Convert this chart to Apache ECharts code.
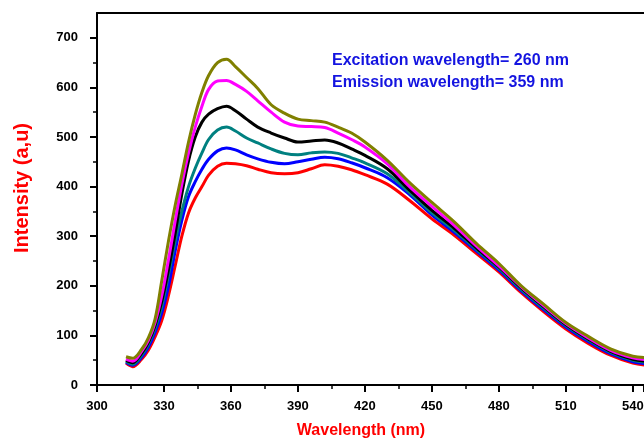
<!DOCTYPE html>
<html>
<head>
<meta charset="utf-8">
<script src="https://cdn.jsdelivr.net/npm/echarts@6/dist/echarts.min.js"></script>
<style>
  html, body { margin: 0; padding: 0; background: #fff; }
  #main { width: 644px; height: 439px; }
</style>
</head>
<body>
<div id="main"></div>
<script>
// wavelength (nm)
var wavelength = [313, 316, 320, 323, 326, 329, 332, 335, 338, 341, 344, 347, 350, 354, 358, 362, 367, 372, 378, 384, 390, 396, 402, 408, 414, 420, 430, 440, 450, 460, 470, 480, 490, 500, 510, 520, 530, 540, 546];

// intensity of each curve
var olive = [57, 54, 72, 95, 133, 210, 290, 362, 425, 490, 545, 590, 624, 650, 657, 642, 620, 598, 565, 548, 536, 533, 530, 520, 508, 490, 453, 408, 368, 329, 285, 245, 200, 163, 126, 98, 73, 58, 55];
var magenta = [52, 48, 68, 90, 126, 180, 252, 330, 405, 468, 520, 562, 596, 613, 614, 606, 592, 573, 550, 530, 522, 521, 519, 508, 495, 480, 446, 400, 360, 322, 280, 240, 198, 160, 124, 95, 70, 55, 51];
var black = [50, 45, 64, 86, 120, 168, 232, 305, 385, 452, 500, 530, 546, 557, 562, 553, 536, 520, 508, 498, 490, 492, 494, 488, 476, 463, 436, 393, 352, 316, 276, 238, 196, 158, 122, 93, 68, 52, 48];
var teal = [48, 42, 60, 82, 114, 158, 222, 290, 350, 400, 437, 468, 495, 514, 520, 512, 498, 488, 476, 467, 464, 468, 470, 467, 458, 448, 426, 388, 347, 312, 273, 235, 193, 155, 120, 91, 66, 50, 46];
var blue = [46, 40, 56, 76, 106, 145, 198, 270, 332, 380, 410, 435, 455, 472, 478, 474, 464, 456, 449, 446, 450, 455, 459, 456, 448, 438, 418, 384, 343, 308, 270, 232, 190, 152, 117, 88, 63, 47, 43];
var red = [44, 37, 52, 70, 97, 130, 180, 240, 300, 347, 377, 400, 423, 441, 447, 446, 442, 435, 428, 426, 428, 436, 444, 441, 434, 424, 405, 372, 335, 302, 265, 228, 186, 148, 113, 84, 60, 44, 40];

var yTicks = [0, 100, 200, 300, 400, 500, 600, 700];
var noteLines = ['Excitation wavelength= 260 nm', 'Emission wavelength= 359 nm'];

var curves = [
    {values: red, color: '#ff0000'},
    {values: blue, color: '#0000ff'},
    {values: teal, color: '#008080'},
    {values: black, color: '#000000'},
    {values: magenta, color: '#ff00ff'},
    {values: olive, color: '#808000'}
];

var pairs = function (ys) {
    var out = [];
    for (var i = 0; i < wavelength.length; i++) {
        out.push([wavelength[i], ys[i]]);
    }
    return out;
};

var chartDom = document.getElementById('main');
var myChart = echarts.init(chartDom, null, {renderer: 'canvas'});

var font = 'Liberation Sans, Arial, sans-serif';

var series = curves.map(function (c) {
    return {
        type: 'line',
        data: pairs(c.values),
        smooth: 0.35,
        symbol: 'none',
        lineStyle: {color: c.color, width: 3},
        xAxisIndex: 0,
        yAxisIndex: 0
    };
});

var option = {
    backgroundColor: '#ffffff',
    animation: false,
    grid: {left: 97, right: 0, top: 13, bottom: 54, outerBoundsMode: 'none'},
    xAxis: [{
        type: 'value',
        min: 300,
        max: 545,
        interval: 30,
        position: 'bottom',
        axisLine: {lineStyle: {color: '#000', width: 2}},
        axisTick: {inside: false, length: 7, lineStyle: {color: '#000', width: 2}},
        minorTick: {show: true, splitNumber: 2, length: 4, lineStyle: {color: '#000', width: 1.5}},
        axisLabel: {
            margin: 15,
            color: '#000',
            fontWeight: 'bold',
            fontSize: 13,
            fontFamily: font,
            formatter: function (v) { return (v - 300) % 30 === 0 ? v : ''; }
        },
        splitLine: {show: false}
    }, {
        type: 'value',
        min: 300,
        max: 545,
        position: 'top',
        axisLine: {lineStyle: {color: '#000', width: 2}},
        axisTick: {show: false},
        axisLabel: {show: false},
        splitLine: {show: false}
    }],
    yAxis: {
        type: 'value',
        min: 0,
        max: 750,
        interval: 100,
        axisLine: {show: true, lineStyle: {color: '#000', width: 2}},
        axisTick: {show: true, length: 7, customValues: yTicks, lineStyle: {color: '#000', width: 2}},
        minorTick: {show: true, splitNumber: 2, length: 4, lineStyle: {color: '#000', width: 1.5}},
        axisLabel: {
            margin: 19,
            color: '#000',
            fontWeight: 'bold',
            fontSize: 13,
            fontFamily: font,
            customValues: yTicks
        },
        splitLine: {show: false}
    },
    graphic: [{
        type: 'text',
        left: 332,
        top: 50,
        style: {
            text: noteLines.join('\n'),
            fill: '#1414e0',
            font: 'bold 16px ' + font,
            lineHeight: 22
        }
    }, {
        type: 'text',
        x: 22,
        y: 188,
        rotation: Math.PI / 2,
        style: {
            text: 'Intensity (a,u)',
            fill: '#ff0000',
            font: 'bold 20px ' + font,
            align: 'center',
            verticalAlign: 'middle'
        }
    }, {
        type: 'text',
        x: 361,
        y: 431,
        style: {
            text: 'Wavelength (nm)',
            fill: '#ff0000',
            font: 'bold 16px ' + font,
            align: 'center',
            verticalAlign: 'middle'
        }
    }],
    series: series
};

myChart.setOption(option);
</script>
</body>
</html>
